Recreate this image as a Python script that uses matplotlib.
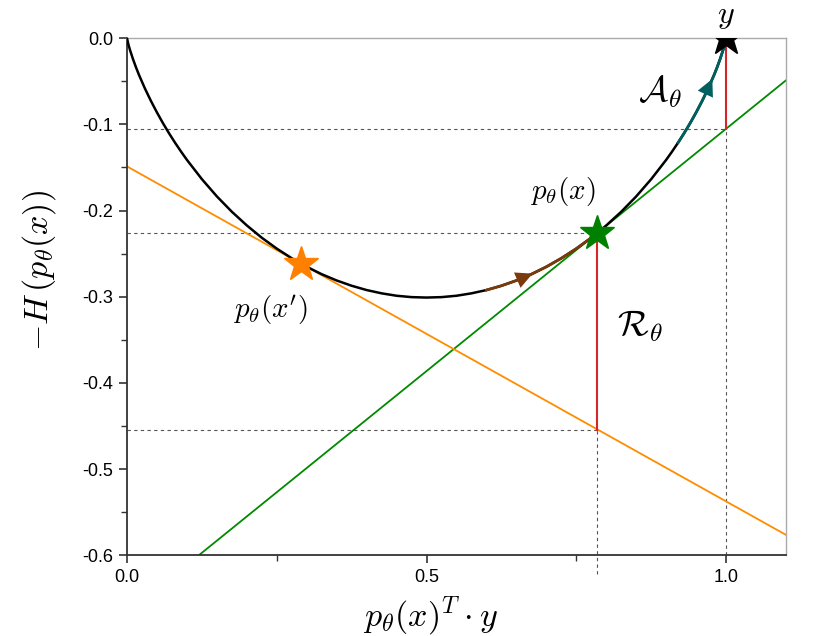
import numpy as np
import matplotlib
matplotlib.use("Agg")
import matplotlib.pyplot as plt

plt.rcParams['mathtext.fontset'] = 'cm'
plt.rcParams['axes.unicode_minus'] = False
plt.rcParams['font.family'] = ['Liberation Sans', 'DejaVu Sans']

# curve values
curve_x = [0.0, 0.0025, 0.005, 0.01, 0.015, 0.02, 0.03, 0.04, 0.05, 0.06, 0.07, 0.08,
           0.09, 0.10, 0.125, 0.15, 0.175, 0.20, 0.225, 0.25, 0.275, 0.30, 0.325,
           0.35, 0.375, 0.40, 0.425, 0.45, 0.475, 0.50, 0.525, 0.55, 0.575, 0.60,
           0.625, 0.65, 0.675, 0.70, 0.725, 0.75, 0.775, 0.785, 0.80, 0.825, 0.85,
           0.875, 0.90, 0.91, 0.92, 0.93, 0.94, 0.95, 0.96, 0.97, 0.98, 0.985,
           0.99, 0.995, 0.9975, 1.0]
curve_y = [0.0, -0.0076, -0.0137, -0.0243, -0.0338, -0.0426, -0.0585, -0.0729,
           -0.0862, -0.0986, -0.1102, -0.1211, -0.1314, -0.1412, -0.1636, -0.1836,
           -0.2014, -0.2173, -0.2316, -0.2442, -0.2554, -0.2653, -0.2739, -0.2812,
           -0.2873, -0.2923, -0.2961, -0.2989, -0.3005, -0.3010, -0.3005, -0.2989,
           -0.2961, -0.2923, -0.2873, -0.2812, -0.2739, -0.2653, -0.2554, -0.2442,
           -0.2316, -0.2260, -0.2173, -0.2014, -0.1836, -0.1636, -0.1412, -0.1314,
           -0.1211, -0.1102, -0.0986, -0.0862, -0.0729, -0.0585, -0.0426, -0.0338,
           -0.0243, -0.0137, -0.0076, 0.0]

# points
pt_x = [0.785, 0.29, 1.0]
pt_y = [-0.226, -0.2615, 0.0]

# tangent lines (endpoints)
green_x = [0.12, 1.1]
green_y = [-0.60, -0.0489]
orange_x = [0.0, 1.1]
orange_y = [-0.1488, -0.5764]

# guide levels
h_levels = [-0.105, -0.226, -0.455]
h_ends = [1.0, 0.785, 0.785]

cx = np.array(curve_x)
cy = np.array(curve_y)

fig = plt.figure(figsize=(8.3, 6.36), dpi=100)
ax = fig.add_axes([0.153, 0.127, 0.794, 0.813])

ax.set_xlim(0, 1.1)
ax.set_ylim(-0.6, 0.0)

dash = dict(ls=(0, (3, 3)), color='#555555', lw=0.8, zorder=1)
for lv, e in zip(h_levels, h_ends):
    ax.plot([0, e], [lv, lv], **dash)
ax.plot([0.785, 0.785], [-0.622, h_levels[2]], clip_on=False, **dash)
ax.plot([1.0, 1.0], [-0.6, h_levels[0]], **dash)

# tangent lines
ax.plot(green_x, green_y, color='#008a00', lw=1.3, zorder=2)
ax.plot(orange_x, orange_y, color='#ff8c00', lw=1.3, zorder=2)

# red gaps
ax.plot([0.785, 0.785], [h_levels[2], pt_y[0]], color='#d62728', lw=1.5, zorder=3)
ax.plot([1.0, 1.0], [h_levels[0], 0.0], color='#d62728', lw=1.5, zorder=3)

# curve
ax.plot(cx, cy, color='black', lw=1.8, zorder=4, solid_joinstyle='round')
m1 = (cx >= 0.6) & (cx <= 0.785)
ax.plot(cx[m1], cy[m1], color='#7a3a0c', lw=2.0, zorder=5)
m2 = (cx >= 0.92)
ax.plot(cx[m2], cy[m2], color='#005f5f', lw=2.0, zorder=5)

# arrowheads
def arrow(x0, x1, col):
    ax.annotate('', xy=(x1, np.interp(x1, cx, cy)), xytext=(x0, np.interp(x0, cx, cy)),
                arrowprops=dict(arrowstyle='-|>,head_length=0.8,head_width=0.4', color=col, lw=0,
                                mutation_scale=15, shrinkA=0, shrinkB=0), zorder=6)
arrow(0.655, 0.677, '#7a3a0c')
arrow(0.962, 0.977, '#005f5f')

# stars
ax.plot(pt_x[0], pt_y[0], marker='*', ms=26, color='#008000', zorder=7, mec='#008000')
ax.plot(pt_x[1], pt_y[1], marker='*', ms=26, color='#ff8000', zorder=7, mec='#ff8000')
ax.plot(pt_x[2], pt_y[2], marker='*', ms=26, color='black', zorder=7)

# labels
ax.text(1.0, 0.008, r'$y$', fontsize=23, ha='center', va='bottom')
ax.text(0.89, -0.062, r'$\mathcal{A}_\theta$', fontsize=26, ha='center', va='center')
ax.text(0.728, -0.178, r'$p_\theta(x)$', fontsize=21, ha='center', va='center')
ax.text(0.239, -0.316, r'$p_\theta(x^{\prime})$', fontsize=21, ha='center', va='center')
ax.text(0.856, -0.335, r'$\mathcal{R}_\theta$', fontsize=26, ha='center', va='center')

ax.set_xlabel(r'$p_\theta(x)^T \cdot y$', fontsize=24.5)
ax.xaxis.set_label_coords(0.46, -0.076)
ax.set_ylabel(r'$-H\,(p_\theta(x))$', fontsize=24.5)
ax.yaxis.set_label_coords(-0.104, 0.551)

# ticks
ax.set_xticks([0.0, 0.5, 1.0])
ax.set_xticks([0.25, 0.75], minor=True)
ax.set_yticks([-0.6, -0.5, -0.4, -0.3, -0.2, -0.1, 0.0])
ax.set_yticks([-0.55, -0.45, -0.35, -0.25, -0.15, -0.05], minor=True)
ax.set_xticklabels(['0.0', '0.5', '1.0'])
ax.set_yticklabels(['-0.6', '-0.5', '-0.4', '-0.3', '-0.2', '-0.1', '0.0'])
ax.tick_params(which='major', direction='out', length=6, width=1.2, color='#333333', labelsize=13, pad=4)
ax.tick_params(which='minor', direction='out', length=4, width=1.0, color='#333333')

for s in ['left', 'bottom']:
    ax.spines[s].set_color('#333333')
    ax.spines[s].set_linewidth(1.3)
for s in ['top', 'right']:
    ax.spines[s].set_color('#aaaaaa')
    ax.spines[s].set_linewidth(1.0)

fig.savefig('out.png', dpi=100)
